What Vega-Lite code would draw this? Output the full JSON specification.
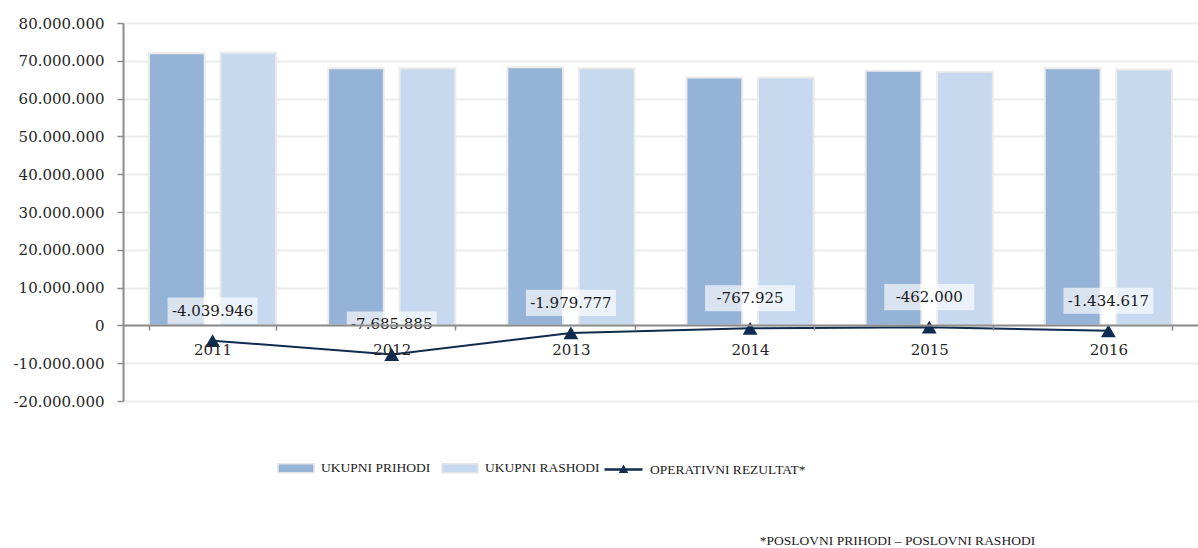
{
  "$schema": "https://vega.github.io/schema/vega-lite/v6.json",
  "width": 1075,
  "height": 378,
  "autosize": {"type": "none"},
  "padding": {"left": 123, "top": 23, "right": 0, "bottom": 147},
  "background": "white",
  "title": {
    "text": "*POSLOVNI PRIHODI – POSLOVNI RASHODI",
    "orient": "bottom",
    "anchor": "middle",
    "dx": 237,
    "offset": 57,
    "font": "Liberation Serif",
    "fontSize": 13.5,
    "fontWeight": "normal",
    "color": "#1a1a1a"
  },
  "config": {
    "locale": {
      "number": {"decimal": ",", "thousands": ".", "grouping": [3], "currency": ["", ""], "minus": "-"}
    },
    "view": {"stroke": null},
    "axis": {"labelFont": "DejaVu Serif", "labelFontSize": 15, "labelColor": "#262626"},
    "legend": {"labelFont": "Liberation Serif", "labelFontSize": 13.5, "labelColor": "#1a1a1a", "labelLimit": 400, "labelOffset": 6, "columnPadding": 8}
  },
  "data": {
    "values": [
      {"year": "2011", "series": "UKUPNI PRIHODI", "value": 72000000},
      {"year": "2011", "series": "UKUPNI RASHODI", "value": 72100000},
      {"year": "2011", "series": "OPERATIVNI REZULTAT*", "value": -4039946},
      {"year": "2012", "series": "UKUPNI PRIHODI", "value": 68000000},
      {"year": "2012", "series": "UKUPNI RASHODI", "value": 68000000},
      {"year": "2012", "series": "OPERATIVNI REZULTAT*", "value": -7685885},
      {"year": "2013", "series": "UKUPNI PRIHODI", "value": 68300000},
      {"year": "2013", "series": "UKUPNI RASHODI", "value": 68000000},
      {"year": "2013", "series": "OPERATIVNI REZULTAT*", "value": -1979777},
      {"year": "2014", "series": "UKUPNI PRIHODI", "value": 65600000},
      {"year": "2014", "series": "UKUPNI RASHODI", "value": 65600000},
      {"year": "2014", "series": "OPERATIVNI REZULTAT*", "value": -767925},
      {"year": "2015", "series": "UKUPNI PRIHODI", "value": 67400000},
      {"year": "2015", "series": "UKUPNI RASHODI", "value": 67100000},
      {"year": "2015", "series": "OPERATIVNI REZULTAT*", "value": -462000},
      {"year": "2016", "series": "UKUPNI PRIHODI", "value": 68000000},
      {"year": "2016", "series": "UKUPNI RASHODI", "value": 67700000},
      {"year": "2016", "series": "OPERATIVNI REZULTAT*", "value": -1434617}
    ]
  },
  "encoding": {
    "x": {
      "field": "year",
      "type": "nominal",
      "scale": {"paddingInner": 0.29, "paddingOuter": 0.145},
      "axis": {
        "title": null,
        "labelAngle": 0,
        "offset": -76,
        "domainColor": "#8c8c8c",
        "domainWidth": 2,
        "tickColor": "#8c8c8c",
        "tickSize": 5,
        "tickWidth": 1.5,
        "tickBand": "extent",
        "labelPadding": 12,
        "labelBaseline": "top",
        "zindex": 1
      }
    },
    "y": {
      "field": "value",
      "type": "quantitative",
      "scale": {"domain": [-20000000, 80000000], "nice": false},
      "axis": {
        "title": null,
        "format": ",d",
        "values": [-20000000, -10000000, 0, 10000000, 20000000, 30000000, 40000000, 50000000, 60000000, 70000000, 80000000],
        "domainColor": "#8c8c8c",
        "domainWidth": 2,
        "tickColor": "#8c8c8c",
        "tickSize": 6,
        "tickWidth": 1.5,
        "labelPadding": 13,
        "gridColor": "#ececec",
        "gridWidth": 2
      }
    }
  },
  "layer": [
    {
      "transform": [{"filter": "datum.series !== 'OPERATIVNI REZULTAT*'"}],
      "mark": {"type": "bar", "stroke": "#ebebeb", "strokeWidth": 2},
      "encoding": {
        "xOffset": {"field": "series", "type": "nominal", "sort": ["UKUPNI PRIHODI", "UKUPNI RASHODI"], "scale": {"paddingInner": 0.22}},
        "color": {
          "field": "series",
          "type": "nominal",
          "scale": {
            "domain": ["UKUPNI PRIHODI", "UKUPNI RASHODI"],
            "range": ["#95b3d7", "#c6d9ee"]
          },
          "legend": {
            "title": null,
            "orient": "none",
            "legendX": 154,
            "legendY": 426,
            "direction": "horizontal",
            "symbolSize": 1296,
            "symbolType": "M-1,-0.25L1,-0.25L1,0.25L-1,0.25Z",
            "symbolStrokeColor": "#e6e6e6",
            "symbolStrokeWidth": 1.5
          }
        }
      }
    },
    {
      "transform": [{"filter": "datum.series === 'OPERATIVNI REZULTAT*'"}],
      "mark": {"type": "line", "strokeWidth": 2, "color": "#0f2b4d"},
      "encoding": {
        "stroke": {
          "field": "series",
          "type": "nominal",
          "scale": {"domain": ["OPERATIVNI REZULTAT*"], "range": ["#0f2b4d"]},
          "legend": {
            "title": null,
            "orient": "none",
            "legendX": 480,
            "legendY": 426,
            "direction": "horizontal",
            "symbolSize": 1444,
            "symbolType": "M-1,0L1,0M-0.14,0.12L0,-0.13L0.14,0.12Z",
            "symbolStrokeWidth": 2.5,
            "symbolFillColor": "#0f2b4d"
          }
        }
      }
    },
    {
      "transform": [{"filter": "datum.series === 'OPERATIVNI REZULTAT*'"}],
      "mark": {"type": "point", "shape": "triangle-up", "size": 220, "filled": true, "color": "#0f2b4d", "opacity": 1}
    },
    {
      "transform": [{"filter": "datum.series === 'OPERATIVNI REZULTAT*'"}],
      "mark": {
        "type": "point",
        "shape": "M-1,-0.29L1,-0.29L1,0.29L-1,0.29Z",
        "size": 8100,
        "filled": true,
        "color": "white",
        "opacity": 0.65,
        "strokeWidth": 0,
        "yOffset": -30
      }
    },
    {
      "transform": [{"filter": "datum.series === 'OPERATIVNI REZULTAT*'"}],
      "mark": {
        "type": "text",
        "font": "DejaVu Serif",
        "fontSize": 15,
        "color": "#1a1a1a",
        "baseline": "middle",
        "yOffset": -30
      },
      "encoding": {
        "text": {"field": "value", "type": "quantitative", "format": ",d"}
      }
    }
  ]
}
